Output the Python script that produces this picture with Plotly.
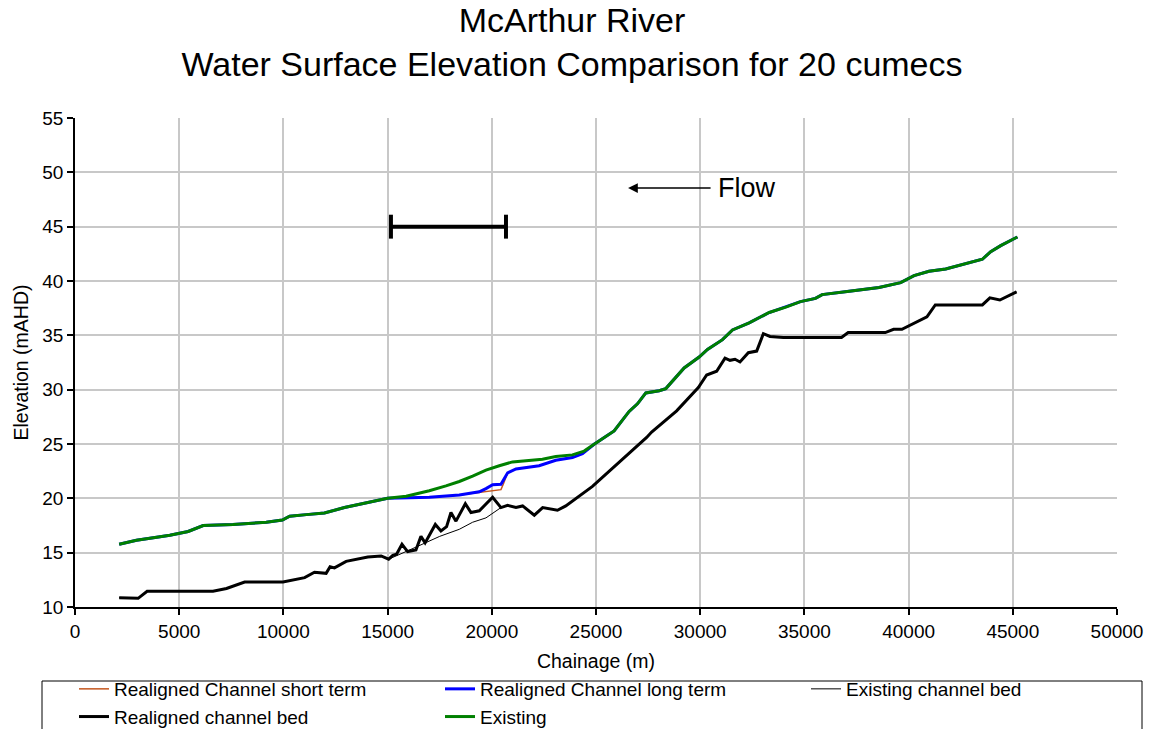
import plotly.graph_objects as go

# ---------------- data (chainage m, elevation mAHD) ----------------
existing_x = [2120, 2950, 4000, 4550, 5430, 6150, 7580, 9180, 9950, 10300, 11100, 11970,
              12930, 13970, 15000, 15890, 17000, 17800, 18440, 19080, 19720, 20360, 20990,
              22430, 23070, 23870, 24430, 24910, 25870, 26590, 26990, 27390, 28030, 28350,
              29230, 29950, 30350, 31070, 31550, 32350, 33310, 34110, 34810, 35530, 35850,
              37150, 38580, 39620, 40260, 40980, 41780, 43540, 43940, 44420, 45220]
existing_y = [15.77, 16.15, 16.45, 16.6, 16.95, 17.5, 17.6, 17.8, 18.0, 18.35, 18.5, 18.65,
              19.15, 19.55, 20.0, 20.2, 20.7, 21.15, 21.55, 22.05, 22.6, 23.0, 23.35,
              23.6, 23.85, 24.0, 24.35, 24.97, 26.2, 28.0, 28.7, 29.7, 29.9, 30.1,
              32.0, 33.0, 33.7, 34.6, 35.5, 36.15, 37.1, 37.6, 38.1, 38.4, 38.75,
              39.05, 39.4, 39.85, 40.5, 40.9, 41.1, 42.0, 42.7, 43.25, 44.05]

long_x = [2120, 2950, 4000, 4550, 5430, 6150, 7580, 9180, 9950, 10300, 11100, 11970,
          12930, 13970, 15000, 16040, 17000, 18440, 19400, 19720, 20040, 20440, 20760,
          21160, 22270, 23070, 23870, 24350, 24910, 25870, 26590, 26990, 27390, 28030,
          28350, 29230, 29950, 30350, 31070, 31550, 32350, 33310, 34110, 34810, 35530,
          35850, 37150, 38580, 39620, 40260, 40980, 41780, 43540, 43940, 44420, 45220]
long_y = [15.77, 16.15, 16.45, 16.6, 16.95, 17.5, 17.6, 17.8, 18.0, 18.35, 18.5, 18.65,
          19.15, 19.55, 20.0, 20.05, 20.1, 20.3, 20.6, 20.9, 21.25, 21.3, 22.35,
          22.7, 23.0, 23.5, 23.75, 24.1, 24.97, 26.2, 28.0, 28.7, 29.7, 29.9,
          30.1, 32.0, 33.0, 33.7, 34.6, 35.5, 36.15, 37.1, 37.6, 38.1, 38.4,
          38.75, 39.05, 39.4, 39.85, 40.5, 40.9, 41.1, 42.0, 42.7, 43.25, 44.05]

short_x = [2120, 2950, 4000, 4550, 5430, 6150, 7580, 9180, 9950, 10300, 11100, 11970,
           12930, 13970, 15000, 16040, 17000, 18440, 19400, 19800, 20440, 20550, 20760,
           21160, 22270, 23070, 23870, 24350, 24910, 25870, 26590, 26990, 27390, 28030,
           28350, 29230, 29950, 30350, 31070, 31550, 32350, 33310, 34110, 34810, 35530,
           35850, 37150, 38580, 39620, 40260, 40980, 41780, 43540, 43940, 44420, 45220]
short_y = [15.77, 16.15, 16.45, 16.6, 16.95, 17.5, 17.6, 17.8, 18.0, 18.35, 18.5, 18.65,
           19.15, 19.55, 20.0, 20.05, 20.1, 20.3, 20.55, 20.65, 20.8, 21.3, 22.35,
           22.7, 23.0, 23.5, 23.75, 24.1, 24.97, 26.2, 28.0, 28.7, 29.7, 29.9,
           30.1, 32.0, 33.0, 33.7, 34.6, 35.5, 36.15, 37.1, 37.6, 38.1, 38.4,
           38.75, 39.05, 39.4, 39.85, 40.5, 40.9, 41.1, 42.0, 42.7, 43.25, 44.05]

realigned_bed_x = [2120, 3030, 3460, 6620, 7270, 8140, 9980, 11020, 11490, 12050, 12240, 12450,
                   13010, 14050, 14690, 15050, 15250, 15430, 15690, 15960, 16360, 16600, 16800,
                   17290, 17560, 17830, 18040, 18280, 18730, 19000, 19400, 20040, 20440, 20760,
                   21160, 21480, 22040, 22440, 23150, 23550, 24830, 25990, 27430, 27670, 28870,
                   29910, 30310, 30790, 31190, 31430, 31670, 31910, 32310, 32710, 33030, 33350,
                   33990, 36780, 37100, 38880, 39280, 39680, 40880, 41280, 43540, 43900, 44380,
                   45180]
realigned_bed_y = [10.86, 10.8, 11.45, 11.45, 11.7, 12.3, 12.3, 12.7, 13.2, 13.1, 13.7, 13.6,
                   14.2, 14.6, 14.7, 14.4, 14.75, 14.85, 15.77, 15.1, 15.25, 16.5, 15.9,
                   17.6, 17.0, 17.4, 18.7, 17.9, 19.5, 18.7, 18.85, 20.1, 19.15, 19.35,
                   19.15, 19.3, 18.45, 19.15, 18.9, 19.3, 21.1, 23.1, 25.6, 26.1, 28.05,
                   30.2, 31.35, 31.7, 32.9, 32.7, 32.8, 32.55, 33.4, 33.55, 35.15, 34.9,
                   34.8, 34.8, 35.25, 35.25, 35.55, 35.55, 36.7, 37.8, 37.8, 38.45, 38.25,
                   39.0]

existing_bed_x = [2120, 3030, 3460, 6620, 7270, 8140, 9980, 11020, 11490, 12050, 12240, 12450,
                  13010, 14050, 14690, 15050, 16000, 16840, 17500, 18440, 19080, 19720, 20440,
                  20760, 21160, 21480, 22040, 22440, 23150, 23550, 24830, 25990, 27430, 27670,
                  28870, 29910, 30310, 30790, 31190, 31430, 31670, 31910, 32310, 32710, 33030,
                  33350, 33990, 36780, 37100, 38880, 39280, 39680, 40880, 41280, 43540, 43900,
                  44380, 45180]
existing_bed_y = [10.86, 10.8, 11.45, 11.45, 11.7, 12.3, 12.3, 12.7, 13.2, 13.1, 13.7, 13.6,
                  14.2, 14.6, 14.7, 14.4, 15.2, 15.9, 16.5, 17.15, 17.8, 18.2, 19.15,
                  19.35, 19.15, 19.3, 18.45, 19.15, 18.9, 19.3, 21.1, 23.1, 25.6, 26.1,
                  28.05, 30.2, 31.35, 31.7, 32.9, 32.7, 32.8, 32.55, 33.4, 33.55, 35.15,
                  34.9, 34.8, 34.8, 35.25, 35.25, 35.55, 35.55, 36.7, 37.8, 37.8, 38.45,
                  38.25, 39.0]

# realigned reach indicator (chainage limits) and its elevation
reach_start = 15160
reach_end = 20680
reach_level = 45

x_ticks = [0, 5000, 10000, 15000, 20000, 25000, 30000, 35000, 40000, 45000, 50000]
y_ticks = [10, 15, 20, 25, 30, 35, 40, 45, 50, 55]

FONT = "Arial, Liberation Sans, sans-serif"

# plot-area geometry in pixels (for paper-coordinate conversions)
PL, PR, PT, PB = 75, 1117, 118, 607
PW, PH = PR - PL, PB - PT

def px_x(p):
    return (p - PL) / PW

def px_y(p):
    return (PB - p) / PH

fig = go.Figure()
fig.add_trace(go.Scatter(x=short_x, y=short_y, mode="lines", name="Realigned Channel short term",
                         line=dict(color="#C4561E", width=1.5)))
fig.add_trace(go.Scatter(x=long_x, y=long_y, mode="lines", name="Realigned Channel long term",
                         line=dict(color="#0000FF", width=3)))
fig.add_trace(go.Scatter(x=existing_bed_x, y=existing_bed_y, mode="lines", name="Existing channel bed",
                         line=dict(color="#000000", width=1)))
fig.add_trace(go.Scatter(x=realigned_bed_x, y=realigned_bed_y, mode="lines", name="Realigned channel bed",
                         line=dict(color="#000000", width=3)))
fig.add_trace(go.Scatter(x=existing_x, y=existing_y, mode="lines", name="Existing",
                         line=dict(color="#008000", width=3)))

# reach bar
bar_style = dict(color="black", width=4)
fig.add_shape(type="line", xref="x", yref="y", x0=reach_start, x1=reach_end,
              y0=reach_level, y1=reach_level, line=bar_style)
fig.add_shape(type="line", xref="x", yref="y", x0=reach_start, x1=reach_start,
              y0=reach_level - 1.1, y1=reach_level + 1.1, line=bar_style)
fig.add_shape(type="line", xref="x", yref="y", x0=reach_end, x1=reach_end,
              y0=reach_level - 1.1, y1=reach_level + 1.1, line=bar_style)

# legend frame
fig.add_shape(type="rect", xref="paper", yref="paper",
              x0=px_x(42), x1=px_x(1142), y0=px_y(681), y1=px_y(760),
              line=dict(color="black", width=1), fillcolor="rgba(0,0,0,0)", layer="above")

# flow arrow
fig.add_annotation(x=26540, y=48.55, ax=30570, ay=48.55, xref="x", yref="y",
                   axref="x", ayref="y", text="", showarrow=True,
                   arrowhead=2, arrowsize=1.3, arrowwidth=1.5, arrowcolor="black")
fig.add_annotation(x=30750, y=48.55, xref="x", yref="y", text="Flow", showarrow=False,
                   xanchor="left", yanchor="middle", font=dict(family=FONT, size=27, color="black"))

fig.update_layout(
    width=1152, height=729,
    margin=dict(l=PL, r=1152 - PR, t=PT, b=729 - PB, autoexpand=False),
    paper_bgcolor="white", plot_bgcolor="white",
    font=dict(family=FONT, color="black"),
    title=dict(text="McArthur River<br>Water Surface Elevation Comparison for 20 cumecs",
               x=572 / 1152, xref="container", xanchor="center",
               y=1 - 32 / 729, yref="container", yanchor="top",
               font=dict(family=FONT, size=34, color="black")),
    showlegend=True,
    legend=dict(orientation="h", xref="paper", yref="paper",
                x=px_x(74), y=px_y(670), xanchor="left", yanchor="top",
                bgcolor="rgba(0,0,0,0)", borderwidth=0,
                entrywidth=321, entrywidthmode="pixels",
                font=dict(family=FONT, size=19, color="black"),
                traceorder="normal"),
)
fig.update_xaxes(range=[0, 50000], tickvals=x_ticks, ticktext=[str(v) for v in x_ticks],
                 showgrid=True, gridcolor="#C8C8C8", gridwidth=1.5,
                 showline=True, linecolor="black", linewidth=1.5,
                 ticks="outside", ticklen=6, tickcolor="black", tickwidth=1.5,
                 tickfont=dict(family=FONT, size=19, color="black"),
                 title=dict(text="Chainage (m)", font=dict(family=FONT, size=19.5, color="black"), standoff=14),
                 zeroline=False, automargin=False)
fig.update_yaxes(range=[10, 55], tickvals=y_ticks, ticktext=[str(v) for v in y_ticks],
                 showgrid=True, gridcolor="#C8C8C8", gridwidth=1.5,
                 showline=True, linecolor="black", linewidth=1.5,
                 ticks="outside", ticklen=6, tickcolor="black", tickwidth=1.5,
                 tickfont=dict(family=FONT, size=19, color="black"),
                 title=dict(text="Elevation (mAHD)", font=dict(family=FONT, size=19.5, color="black"), standoff=8),
                 zeroline=False, automargin=False)

fig.write_html("out.html", config={"displayModeBar": False},
               post_script="document.body.style.margin='0px';")
